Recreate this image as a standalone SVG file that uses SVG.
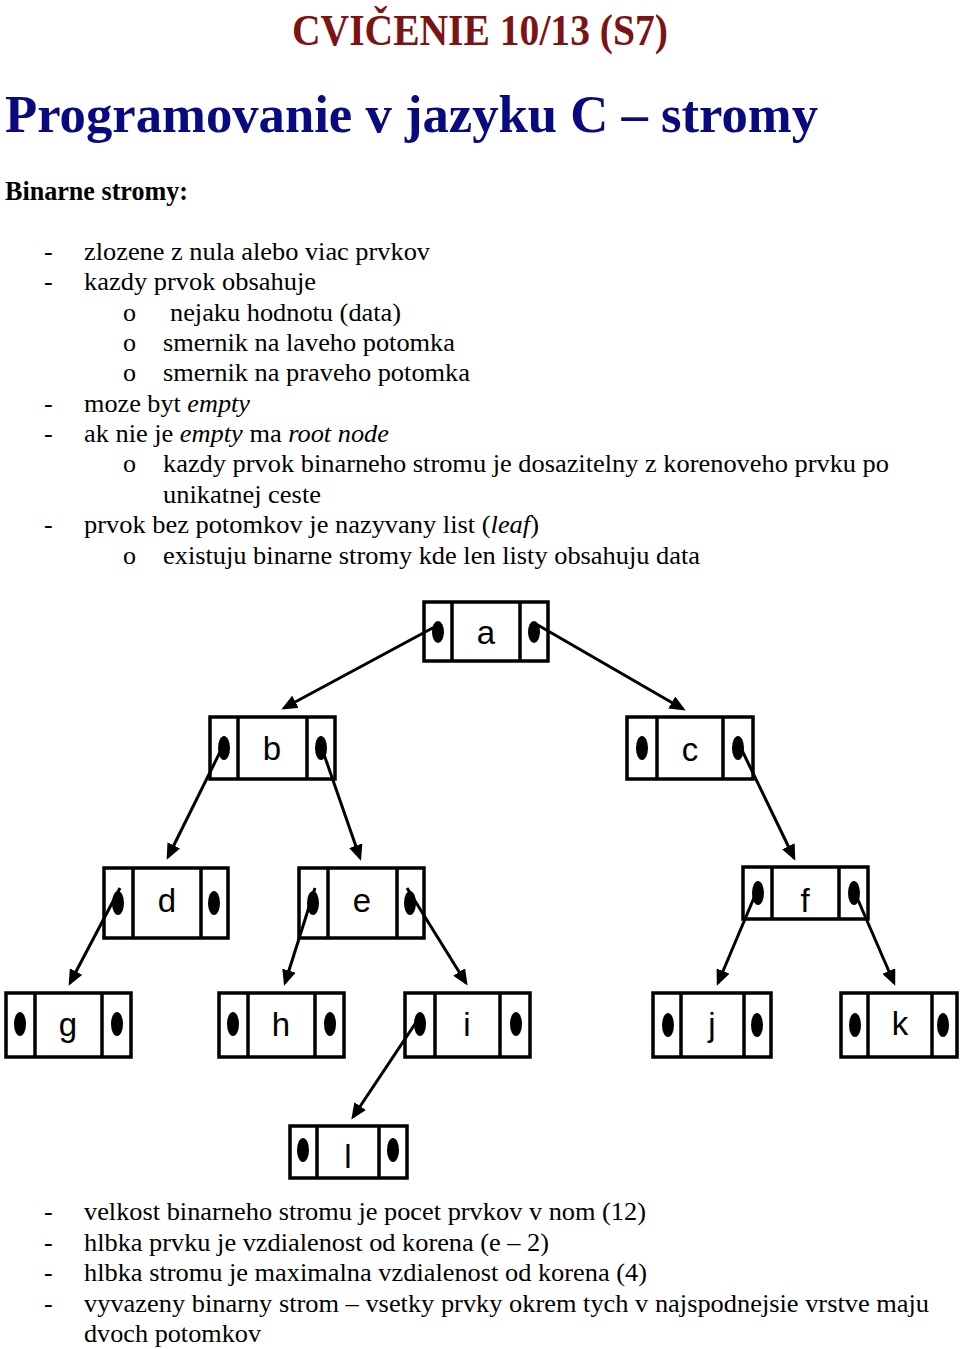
<svg xmlns="http://www.w3.org/2000/svg" width="960" height="1349" viewBox="0 0 960 1349">
<style>
.t{font-family:"Liberation Serif","Times New Roman",serif;font-size:26px;fill:#000}
.i{font-style:italic}
.h1{font-family:"Liberation Serif","Times New Roman",serif;font-weight:bold;font-size:44px;fill:#7d1414}
.h2{font-family:"Liberation Serif","Times New Roman",serif;font-weight:bold;font-size:53px;fill:#0a0a80}
.h3{font-family:"Liberation Serif","Times New Roman",serif;font-weight:bold;font-size:27px;fill:#000}
.box{fill:#fff;stroke:#000;stroke-width:3.5}
.div{stroke:#000;stroke-width:3.5}
.dot{fill:#000}
.lbl{font-family:"Liberation Sans",Arial,sans-serif;font-size:33px;fill:#000;text-anchor:middle}
.edge{stroke:#000;stroke-width:3;fill:none;marker-end:url(#arr)}
</style>
<defs>
<marker id="arr" viewBox="0 0 16 14" refX="13" refY="7" markerWidth="16" markerHeight="14" markerUnits="userSpaceOnUse" orient="auto">
<path d="M0,0 L16,7 L0,14 z" fill="#000"/>
</marker>
</defs>
<rect width="960" height="1349" fill="#fff"/>
<g id="titles">
<text class="h1" x="292" y="45" textLength="376" lengthAdjust="spacingAndGlyphs">CVIČENIE 10/13 (S7)</text>
<text class="h2" x="5" y="132" textLength="813" lengthAdjust="spacingAndGlyphs">Programovanie v jazyku C – stromy</text>
<text class="h3" x="5" y="200" textLength="183" lengthAdjust="spacingAndGlyphs">Binarne stromy:</text>
</g>
<g id="text-top">
<text class="t" x="44" y="260">-</text>
<text class="t" x="84" y="260" textLength="346" lengthAdjust="spacingAndGlyphs">zlozene z nula alebo viac prvkov</text>
<text class="t" x="44" y="290">-</text>
<text class="t" x="84" y="290" textLength="232" lengthAdjust="spacingAndGlyphs">kazdy prvok obsahuje</text>
<text class="t" x="123" y="321">o</text>
<text class="t" x="170" y="321" textLength="231" lengthAdjust="spacingAndGlyphs">nejaku hodnotu (data)</text>
<text class="t" x="123" y="351">o</text>
<text class="t" x="163" y="351" textLength="292" lengthAdjust="spacingAndGlyphs">smernik na laveho potomka</text>
<text class="t" x="123" y="381">o</text>
<text class="t" x="163" y="381" textLength="307" lengthAdjust="spacingAndGlyphs">smernik na praveho potomka</text>
<text class="t" x="44" y="412">-</text>
<text class="t" x="84" y="412" textLength="166" lengthAdjust="spacingAndGlyphs">moze byt <tspan class="i">empty</tspan></text>
<text class="t" x="44" y="442">-</text>
<text class="t" x="84" y="442" textLength="305" lengthAdjust="spacingAndGlyphs">ak nie je <tspan class="i">empty</tspan> ma <tspan class="i">root node</tspan></text>
<text class="t" x="123" y="472">o</text>
<text class="t" x="163" y="472" textLength="726" lengthAdjust="spacingAndGlyphs">kazdy prvok binarneho stromu je dosazitelny z korenoveho prvku po</text>
<text class="t" x="163" y="503" textLength="158" lengthAdjust="spacingAndGlyphs">unikatnej ceste</text>
<text class="t" x="44" y="533">-</text>
<text class="t" x="84" y="533" textLength="455" lengthAdjust="spacingAndGlyphs">prvok bez potomkov je nazyvany list (<tspan class="i">leaf</tspan>)</text>
<text class="t" x="123" y="564">o</text>
<text class="t" x="163" y="564" textLength="537" lengthAdjust="spacingAndGlyphs">existuju binarne stromy kde len listy obsahuju data</text>
</g>
<g id="node-a">
<rect class="box" x="424" y="602" width="124" height="59"/>
<line class="div" x1="452" y1="602" x2="452" y2="661"/><line class="div" x1="520" y1="602" x2="520" y2="661"/>
<ellipse class="dot" cx="438" cy="632" rx="6" ry="11"/><ellipse class="dot" cx="534" cy="632" rx="6" ry="11"/>
<text class="lbl" x="486" y="644">a</text>
</g>
<g id="node-b">
<rect class="box" x="210" y="717" width="125" height="62"/>
<line class="div" x1="238" y1="717" x2="238" y2="779"/><line class="div" x1="307" y1="717" x2="307" y2="779"/>
<ellipse class="dot" cx="224" cy="748" rx="6" ry="12"/><ellipse class="dot" cx="321" cy="748" rx="6" ry="12"/>
<text class="lbl" x="272" y="760">b</text>
</g>
<g id="node-c">
<rect class="box" x="627" y="717" width="126" height="62"/>
<line class="div" x1="657" y1="717" x2="657" y2="779"/><line class="div" x1="723" y1="717" x2="723" y2="779"/>
<ellipse class="dot" cx="642" cy="748" rx="6" ry="12"/><ellipse class="dot" cx="738" cy="748" rx="6" ry="12"/>
<text class="lbl" x="690" y="761">c</text>
</g>
<g id="node-d">
<rect class="box" x="104" y="868" width="124" height="70"/>
<line class="div" x1="133" y1="868" x2="133" y2="938"/><line class="div" x1="201" y1="868" x2="201" y2="938"/>
<ellipse class="dot" cx="118" cy="903" rx="6" ry="12"/><ellipse class="dot" cx="214" cy="903" rx="6" ry="12"/>
<text class="lbl" x="167" y="912">d</text>
</g>
<g id="node-e">
<rect class="box" x="299" y="868" width="125" height="70"/>
<line class="div" x1="328" y1="868" x2="328" y2="938"/><line class="div" x1="397" y1="868" x2="397" y2="938"/>
<ellipse class="dot" cx="313" cy="903" rx="6" ry="12"/><ellipse class="dot" cx="410" cy="903" rx="6" ry="12"/>
<text class="lbl" x="362" y="912">e</text>
</g>
<g id="node-f">
<rect class="box" x="743" y="867" width="125" height="52"/>
<line class="div" x1="772" y1="867" x2="772" y2="919"/><line class="div" x1="839" y1="867" x2="839" y2="919"/>
<ellipse class="dot" cx="758" cy="893" rx="6" ry="12"/><ellipse class="dot" cx="854" cy="893" rx="6" ry="12"/>
<text class="lbl" x="805" y="912">f</text>
</g>
<g id="node-g">
<rect class="box" x="6" y="993" width="125" height="64"/>
<line class="div" x1="35" y1="993" x2="35" y2="1057"/><line class="div" x1="102" y1="993" x2="102" y2="1057"/>
<ellipse class="dot" cx="20" cy="1024" rx="6" ry="12"/><ellipse class="dot" cx="117" cy="1024" rx="6" ry="12"/>
<text class="lbl" x="68" y="1036">g</text>
</g>
<g id="node-h">
<rect class="box" x="219" y="993" width="125" height="64"/>
<line class="div" x1="248" y1="993" x2="248" y2="1057"/><line class="div" x1="315" y1="993" x2="315" y2="1057"/>
<ellipse class="dot" cx="233" cy="1024" rx="6" ry="12"/><ellipse class="dot" cx="330" cy="1024" rx="6" ry="12"/>
<text class="lbl" x="281" y="1036">h</text>
</g>
<g id="node-i">
<rect class="box" x="405" y="993" width="125" height="64"/>
<line class="div" x1="435" y1="993" x2="435" y2="1057"/><line class="div" x1="500" y1="993" x2="500" y2="1057"/>
<ellipse class="dot" cx="420" cy="1024" rx="6" ry="12"/><ellipse class="dot" cx="516" cy="1024" rx="6" ry="12"/>
<text class="lbl" x="467" y="1036">i</text>
</g>
<g id="node-j">
<rect class="box" x="653" y="993" width="118" height="64"/>
<line class="div" x1="681" y1="993" x2="681" y2="1057"/><line class="div" x1="744" y1="993" x2="744" y2="1057"/>
<ellipse class="dot" cx="668" cy="1025" rx="6" ry="12"/><ellipse class="dot" cx="757" cy="1025" rx="6" ry="12"/>
<text class="lbl" x="712" y="1036">j</text>
</g>
<g id="node-k">
<rect class="box" x="841" y="993" width="116" height="64"/>
<line class="div" x1="868" y1="993" x2="868" y2="1057"/><line class="div" x1="932" y1="993" x2="932" y2="1057"/>
<ellipse class="dot" cx="855" cy="1025" rx="6" ry="12"/><ellipse class="dot" cx="943" cy="1025" rx="6" ry="12"/>
<text class="lbl" x="900" y="1035">k</text>
</g>
<g id="node-l">
<rect class="box" x="290" y="1126" width="117" height="52"/>
<line class="div" x1="317" y1="1126" x2="317" y2="1178"/><line class="div" x1="379" y1="1126" x2="379" y2="1178"/>
<ellipse class="dot" cx="303" cy="1150" rx="6" ry="12"/><ellipse class="dot" cx="393" cy="1150" rx="6" ry="12"/>
<text class="lbl" x="348" y="1168">l</text>
</g>
<g id="connectors">
<path class="edge" d="M440,624 L284,708"/>
<path class="edge" d="M536,624 L683,709"/>
<path class="edge" d="M226,740 L168,857"/>
<path class="edge" d="M319,740 L360,858"/>
<path class="edge" d="M738,742 L794,858"/>
<path class="edge" d="M120,888 L70,983"/>
<path class="edge" d="M315,888 L285,983"/>
<path class="edge" d="M407,888 L466,983"/>
<path class="edge" d="M756,893 L718,983"/>
<path class="edge" d="M855,893 L894,983"/>
<path class="edge" d="M421,1015 L353,1117"/>
</g>
<g id="text-bottom">
<text class="t" x="44" y="1220">-</text>
<text class="t" x="84" y="1220" textLength="562" lengthAdjust="spacingAndGlyphs">velkost binarneho stromu je pocet prvkov v nom (12)</text>
<text class="t" x="44" y="1251">-</text>
<text class="t" x="84" y="1251" textLength="465" lengthAdjust="spacingAndGlyphs">hlbka prvku je vzdialenost od korena (e – 2)</text>
<text class="t" x="44" y="1281">-</text>
<text class="t" x="84" y="1281" textLength="563" lengthAdjust="spacingAndGlyphs">hlbka stromu je maximalna vzdialenost od korena (4)</text>
<text class="t" x="44" y="1312">-</text>
<text class="t" x="84" y="1312" textLength="845" lengthAdjust="spacingAndGlyphs">vyvazeny binarny strom – vsetky prvky okrem tych v najspodnejsie vrstve maju</text>
<text class="t" x="84" y="1342" textLength="177" lengthAdjust="spacingAndGlyphs">dvoch potomkov</text>
</g>
</svg>
